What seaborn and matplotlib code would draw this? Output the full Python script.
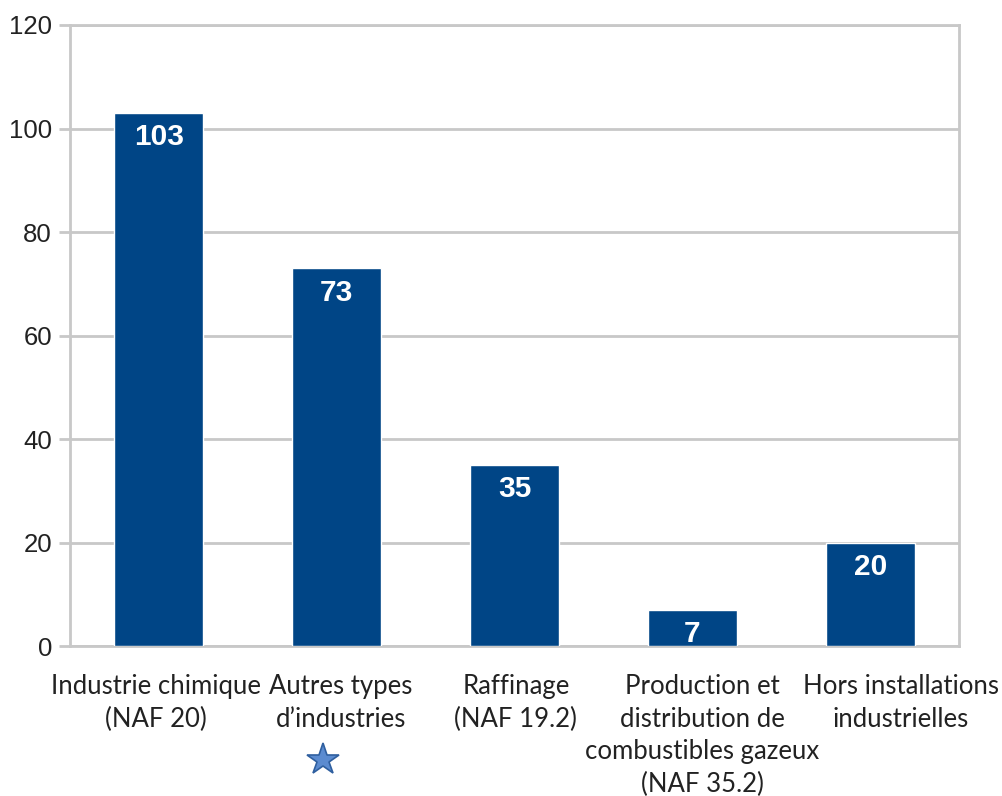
import matplotlib
matplotlib.use("Agg")
import matplotlib.pyplot as plt
import matplotlib.transforms as mtransforms
import seaborn as sns
import pandas as pd

# Number of incidents per sector
categories = [
    "Industrie chimique\n(NAF 20)",
    "Autres types\nd\u2019industries",
    "Raffinage\n(NAF 19.2)",
    "Production et\ndistribution de\ncombustibles gazeux\n(NAF 35.2)",
    "Hors installations\nindustrielles",
]
values = [103, 73, 35, 7, 20]
y_ticks = [0, 20, 40, 60, 80, 100, 120]

BAR_COLOR = "#004586"
GRID_COLOR = "#c8c8c8"
TEXT_COLOR = "#222222"

sns.set_theme(style="white")
plt.rcParams["font.family"] = ["Liberation Sans", "DejaVu Sans"]

df = pd.DataFrame({"secteur": categories, "nombre": values})

fig = plt.figure(figsize=(10.03, 7.96), dpi=100)
ax = fig.add_axes([0.0698, 0.1884, 0.8864, 0.7802])

sns.barplot(data=df, x="secteur", y="nombre", color=BAR_COLOR,
            width=0.5, saturation=1, ax=ax, zorder=3)

ax.set_ylim(0, 120)
ax.set_yticks(y_ticks)
ax.set_xlim(-0.5, len(categories) - 0.5)
ax.set_xlabel("")
ax.set_ylabel("")

ax.yaxis.grid(True, color=GRID_COLOR, linewidth=2, zorder=0)
ax.set_axisbelow(True)
for s in ax.spines.values():
    s.set_visible(True)
    s.set_color(GRID_COLOR)
    s.set_linewidth(2)

ax.tick_params(axis="y", which="major", left=True, length=8, width=2,
               color=GRID_COLOR, labelsize=18.5, labelcolor=TEXT_COLOR, pad=5)
ax.tick_params(axis="x", bottom=False, labelbottom=False)

# Category labels below the axis; the wide right-hand labels sit a bit
# to the right of their bars so neighbouring labels do not collide.
label_shift_pt = [-2, 3, 1, 7, 22]
for i, (cat, dx) in enumerate(zip(categories, label_shift_pt)):
    ax.annotate(cat, xy=(i, 0), xycoords=("data", "axes fraction"),
                xytext=(dx, -20), textcoords="offset points",
                ha="center", va="top", multialignment="center",
                fontsize=18.5, family=["Lato", "DejaVu Sans"],
                color=TEXT_COLOR, linespacing=1.39, annotation_clip=False)

# Value labels inside the bar tops
for i, v in enumerate(values):
    ax.annotate(str(v), xy=(i, v), xytext=(0, -17.5), textcoords="offset points",
                ha="center", va="center", color="white", fontsize=21.5,
                fontweight="bold", zorder=5)

# Star marker under the second category
trans = mtransforms.blended_transform_factory(ax.transData, fig.transFigure)
ax.plot([1 - 0.08], [1 - 760 / 796], marker="*", markersize=24,
        markerfacecolor="#5b8bd0", markeredgecolor="#2f5f9f",
        markeredgewidth=1.2, transform=trans, clip_on=False)

fig.savefig("out.png", dpi=100, facecolor="white")
